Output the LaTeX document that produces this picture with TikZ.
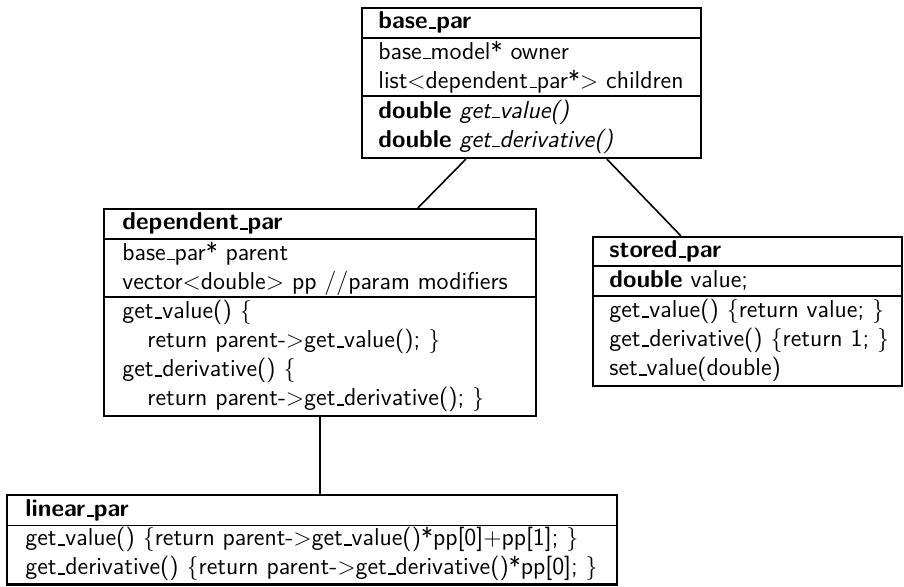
\documentclass[tikz,border=0pt]{standalone}
\usetikzlibrary{fit,calc}
\newcommand{\us}{\leavevmode\kern.06em\vbox{\hrule height 0.55pt width.3em}}
\begin{document}
\begin{tikzpicture}[x=0.5pt,y=-0.5pt,
  box/.style={draw, line width=1.1pt, inner sep=0pt},
  txt/.style={anchor=base west, inner sep=0pt, font=\sffamily\fontsize{12.2}{14.5}\selectfont},
  div/.style={line width=0.9pt},
  conn/.style={line width=0.8pt}]
\useasboundingbox (0,0) rectangle (904,586);

% ---------- base_par ----------
\node[txt] (bpt) at (378,28.5) {\bfseries base\us par};
\node[txt] (bpa1) at (378,59) {base\us model* owner};
\node[txt] (bpa2) at (378,88) {list$<$dependent\us par*$>$ children};
\node[txt] (bpm1) at (378,118) {\textbf{double} \textit{get\us value()}};
\node[txt] (bpm2) at (378,147) {\textbf{double} \textit{get\us derivative()}};
\coordinate (bpTL) at (362,8);
\coordinate (bpB) at (362,158);
\coordinate (bpR) at ($(bpa2.east)+(17,0)$);
\node[box, fit=(bpTL)(bpB)(bpR)] (bp) {};
\draw[div] ([yshift=-15.5pt]bp.north west) -- ([yshift=-15.5pt]bp.north east);
\draw[div] ([yshift=-44.5pt]bp.north west) -- ([yshift=-44.5pt]bp.north east);

% ---------- dependent_par ----------
\node[txt] (dpt) at (122,229.5) {\bfseries dependent\us par};
\node[txt] (dpa1) at (122,260) {base\us par* parent};
\node[txt] (dpa2) at (122,289) {vector$<$double$>$ pp //param modifiers};
\node[txt] (dpm1) at (122,318.5) {get\us value() $\{$};
\node[txt] (dpm2) at (147,347.5) {return parent-$>$get\us value(); $\}$};
\node[txt] (dpm3) at (122,376.5) {get\us derivative() $\{$};
\node[txt] (dpm4) at (147,405.5) {return parent-$>$get\us derivative(); $\}$};
\coordinate (dpTL) at (104,209);
\coordinate (dpB) at (104,416);
\coordinate (dpR) at (536,209);
\node[box, fit=(dpTL)(dpB)(dpR)] (dp) {};
\draw[div] ([yshift=-15.5pt]dp.north west) -- ([yshift=-15.5pt]dp.north east);
\draw[div] ([yshift=-44.5pt]dp.north west) -- ([yshift=-44.5pt]dp.north east);

% ---------- stored_par ----------
\node[txt] (spt) at (609,257.5) {\bfseries stored\us par};
\node[txt] (spa1) at (609,287.5) {\textbf{double} value;};
\node[txt] (spm1) at (609,317.5) {get\us value() $\{$return value; $\}$};
\node[txt] (spm2) at (609,346.5) {get\us derivative() $\{$return 1; $\}$};
\node[txt] (spm3) at (609,375.5) {set\us value(double)};
\coordinate (spTL) at (593,237);
\coordinate (spB) at (593,386);
\coordinate (spR) at (902,237);
\node[box, fit=(spTL)(spB)(spR)] (sp) {};
\draw[div] ([yshift=-15pt]sp.north west) -- ([yshift=-15pt]sp.north east);
\draw[div] ([yshift=-30pt]sp.north west) -- ([yshift=-30pt]sp.north east);

% ---------- linear_par ----------
\node[txt] (lpt) at (25,516.5) {\bfseries linear\us par};
\node[txt] (lpm1) at (25,545.5) {get\us value() $\{$return parent-$>$get\us value()*pp[0]$+$pp[1]; $\}$};
\node[txt] (lpm2) at (25,574.5) {get\us derivative() $\{$return parent-$>$get\us derivative()*pp[0]; $\}$};
\coordinate (lpTL) at (7,495);
\coordinate (lpB) at (7,584.5);
\coordinate (lpR) at ($(lpm2.east)+(19,0)$);
\node[box, fit=(lpTL)(lpB)(lpR)] (lp) {};
\draw[div] ([yshift=-15.75pt]lp.north west) -- ([yshift=-15.75pt]lp.north east);

% ---------- connectors ----------
\draw[conn] ([xshift=52.5pt]bp.south west) -- ([xshift=157.5pt]dp.north west);
\draw[conn] ([xshift=123pt]bp.south west) -- ([xshift=44.5pt]sp.north west);
\draw[conn] (dp.south) -- (dp.south |- lp.north);
\end{tikzpicture}
\end{document}
